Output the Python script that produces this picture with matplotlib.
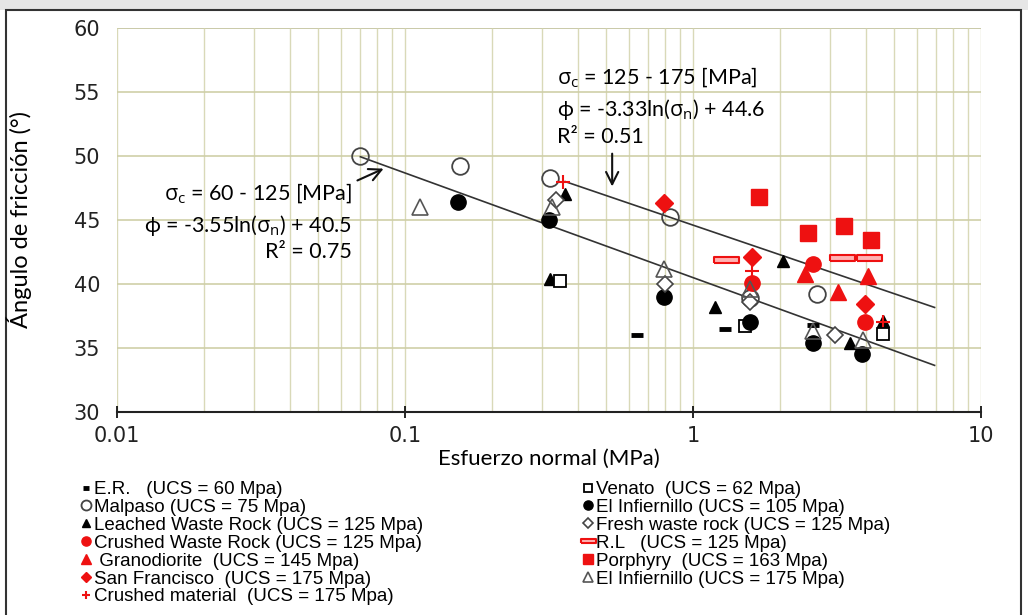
import matplotlib
matplotlib.use("Agg")
import matplotlib.pyplot as plt
from matplotlib.patches import Rectangle
import numpy as np

# data (sigma_n in MPa, friction angle in degrees)
er_x = [0.64, 1.29, 2.6]
er_y = [36.0, 36.5, 36.8]
malpaso_x = [0.07, 0.155, 0.32, 0.83, 1.58, 2.7]
malpaso_y = [50.0, 49.2, 48.3, 45.2, 38.9, 39.2]
leached_x = [0.32, 0.36, 1.19, 2.05, 3.5, 4.55]
leached_y = [40.4, 47.0, 38.2, 41.8, 35.4, 37.1]
crushed_waste_x = [1.6, 2.6, 3.95]
crushed_waste_y = [40.1, 41.6, 37.0]
grano_x = [2.45, 3.2, 4.05]
grano_y = [40.8, 39.4, 40.6]
sanfran_x = [0.79, 1.6, 3.95]
sanfran_y = [46.3, 42.1, 38.4]
crushed_mat_x = [0.355, 1.6, 4.55]
crushed_mat_y = [48.0, 41.0, 37.0]
venato_x = [0.345, 1.52, 4.55]
venato_y = [40.2, 36.7, 36.1]
inf105_x = [0.153, 0.315, 0.79, 1.58, 2.6, 3.85]
inf105_y = [46.4, 45.0, 39.0, 37.0, 35.4, 34.5]
fresh_x = [0.335, 0.8, 1.58, 3.1]
fresh_y = [46.6, 40.0, 38.6, 36.0]
rl_x = [1.3, 3.3, 4.1]
rl_y = [41.9, 42.0, 42.0]
porph_x = [1.7, 2.5, 3.35, 4.15]
porph_y = [46.8, 44.0, 44.5, 43.4]
inf175_x = [0.113, 0.325, 0.79, 1.58, 2.6, 3.9]
inf175_y = [46.0, 46.0, 41.2, 39.6, 36.3, 35.6]

# fitted lines: phi = a*ln(sn) + b, drawn over a range of sn
fit1 = (-3.55, 40.5, 0.07, 6.9)
fit2 = (-3.33, 44.6, 0.36, 6.9)

W, H = 1028, 615
fig = plt.figure(figsize=(W / 100, H / 100), dpi=100)
ax = fig.add_axes([117 / W, 1 - 412 / H, (981 - 117) / W, (412 - 28) / H])

grid_c = "#d9d9b8"
ax.set_xscale("log")
ax.set_xlim(0.01, 10)
ax.set_ylim(30, 60)
ax.set_yticks(range(30, 61, 5))
ax.grid(True, which="major", axis="y", color="#cfcfa8", lw=1.2)
ax.grid(True, which="both", axis="x", color=grid_c, lw=1.0)
ax.set_axisbelow(True)
for s in ["left", "right", "top"]:
    ax.spines[s].set_visible(False)
ax.spines["bottom"].set_color("#222222")
ax.spines["bottom"].set_linewidth(1.5)
ax.axhline(60, color="#a8a8a8", lw=1.2, zorder=0)
ax.tick_params(axis="y", length=0, pad=12)
ax.tick_params(axis="x", which="major", direction="inout", length=8, width=1.2, pad=6)
ax.tick_params(axis="x", which="minor", length=0)
ax.set_xticks([0.01, 0.1, 1, 10])
ax.set_xticklabels(["0.01", "0.1", "1", "10"])
for lab in ax.get_xticklabels() + ax.get_yticklabels():
    lab.set_fontfamily("Liberation Sans Narrow")
    lab.set_fontsize(15)
    lab.set_color("#222222")

ax.set_xlabel("Esfuerzo normal (MPa)", fontsize=16, fontfamily="Lato", labelpad=2)
ax.set_ylabel("Ángulo de fricción (°)", fontsize=17, fontfamily="Lato", labelpad=30)

for a, b, x0, x1 in [fit1, fit2]:
    xs = np.array([x0, x1])
    ax.plot(xs, a * np.log(xs) + b, color="#333333", lw=1.2, zorder=2)

red = "#ee1111"
ax.plot(er_x, er_y, ls="none", marker="_", ms=8, mew=3.5, color="k", label="E.R.   (UCS = 60 Mpa)")
ax.plot(malpaso_x, malpaso_y, ls="none", marker="o", ms=12, mfc="none", mec="#444444", mew=1.3, label="Malpaso (UCS = 75 Mpa)")
ax.plot(leached_x, leached_y, ls="none", marker="^", ms=9, color="k", label="Leached Waste Rock (UCS = 125 Mpa)")
ax.plot(crushed_waste_x, crushed_waste_y, ls="none", marker="o", ms=11, color=red, label="Crushed Waste Rock (UCS = 125 Mpa)")
ax.plot(grano_x, grano_y, ls="none", marker="^", ms=12, color=red, label=" Granodiorite  (UCS = 145 Mpa)")
ax.plot(sanfran_x, sanfran_y, ls="none", marker="D", ms=9, color=red, label="San Francisco  (UCS = 175 Mpa)")
ax.plot(crushed_mat_x, crushed_mat_y, ls="none", marker="+", ms=10, mew=1.5, color=red, label="Crushed material  (UCS = 175 Mpa)")
ax.plot(venato_x, venato_y, ls="none", marker="s", ms=9, mfc="white", mec="k", mew=1.3, label="Venato  (UCS = 62 Mpa)")
ax.plot(inf105_x, inf105_y, ls="none", marker="o", ms=11, color="k", label="El Infiernillo (UCS = 105 Mpa)")
ax.plot(fresh_x, fresh_y, ls="none", marker="D", ms=8, mfc="white", mec="#444444", mew=1.2, label="Fresh waste rock (UCS = 125 Mpa)")
bar = [(-1, -0.22), (1, -0.22), (1, 0.22), (-1, 0.22), (-1, -0.22)]
ax.plot(rl_x, rl_y, ls="none", marker=bar, ms=18, mfc="#ffb3b3", mec=red, mew=1.5, label="R.L   (UCS = 125 Mpa)")
ax.plot(porph_x, porph_y, ls="none", marker="s", ms=12, color=red, label="Porphyry  (UCS = 163 Mpa)")
ax.plot(inf175_x, inf175_y, ls="none", marker="^", ms=11, mfc="none", mec="#555555", mew=1.2, label="El Infiernillo (UCS = 175 Mpa)")

# annotations
plt.rcParams["mathtext.fontset"] = "custom"
plt.rcParams["mathtext.rm"] = "Open Sans"
plt.rcParams["mathtext.it"] = "Open Sans"
fam = ["Lato", "DejaVu Sans"]
fs = 15.5
fig.text(352 / W, 1 - 194 / H, r"$\sigma_{c}$ = 60 - 125 [MPa]", ha="right", va="center", fontsize=fs, family=fam)
fig.text(352 / W, 1 - 225 / H, r"ϕ = -3.55ln($\sigma_{n}$) + 40.5", ha="right", va="center", fontsize=fs, family=fam)
fig.text(352 / W, 1 - 252 / H, "R² = 0.75", ha="right", va="center", fontsize=fs, family=fam)
fig.text(557 / W, 1 - 78 / H, r"$\sigma_{c}$ = 125 - 175 [MPa]", ha="left", va="center", fontsize=fs, family=fam)
fig.text(557 / W, 1 - 110 / H, r"ϕ = -3.33ln($\sigma_{n}$) + 44.6", ha="left", va="center", fontsize=fs, family=fam)
fig.text(557 / W, 1 - 137 / H, "R² = 0.51", ha="left", va="center", fontsize=fs, family=fam)

arrow = dict(arrowstyle="->", color="#111111", lw=1.5, mutation_scale=22)
ax.annotate("", xy=(0.086, 49.1), xytext=(0.067, 48.0), arrowprops=arrow)
ax.annotate("", xy=(0.524, 47.4), xytext=(0.524, 50.4), arrowprops=arrow)

# legends
handles, labels = ax.get_legend_handles_labels()
lkw = dict(frameon=False, prop={"family": "Liberation Sans", "size": 13.5}, markerscale=0.6,
           handlelength=0.4, handletextpad=0.25, labelspacing=0.04, borderpad=0, borderaxespad=0)
fig.legend(handles[:7], labels[:7], loc="upper left", bbox_to_anchor=(82 / W, 1 - 481 / H), **lkw)
fig.legend(handles[7:], labels[7:], loc="upper left", bbox_to_anchor=(584 / W, 1 - 481 / H), **lkw)

# page frame and grey strip above it
fig.patches.append(Rectangle((0, 1 - 10 / H), 1, 10 / H, transform=fig.transFigure,
                             facecolor="#e6e6e6", edgecolor="none", zorder=-5))
fig.patches.append(Rectangle((6 / W, -0.01), (1021 - 6) / W, 1 - 10 / H + 0.01, transform=fig.transFigure,
                             facecolor="white", edgecolor="#333333", lw=1.5, zorder=-4))

fig.savefig("out.png", dpi=100)
